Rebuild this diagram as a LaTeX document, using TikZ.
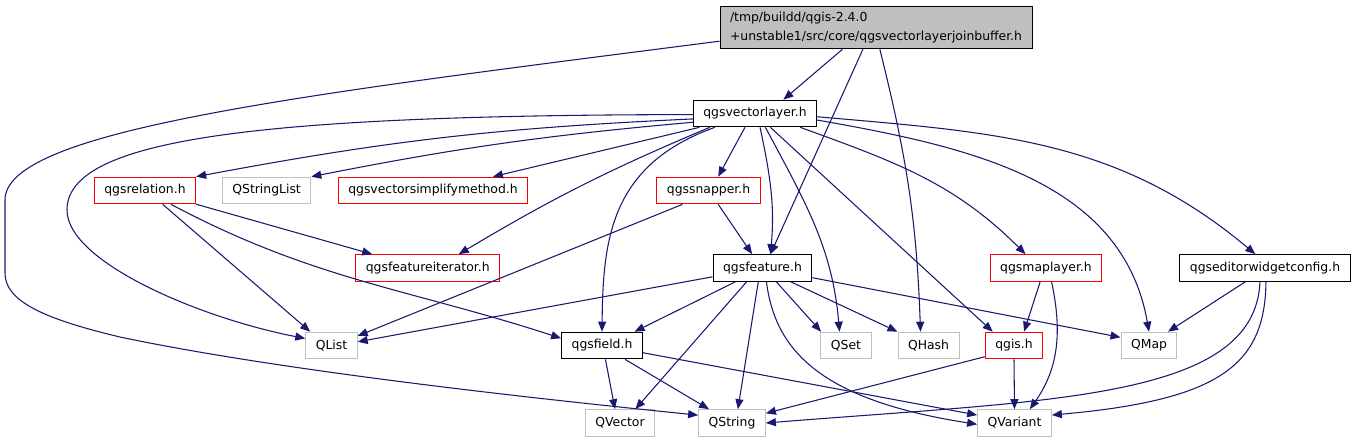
\documentclass[tikz,border=0pt]{standalone}
\usepackage{fontspec}
\setmainfont{DejaVu Sans}
\usetikzlibrary{arrows.meta}
\definecolor{bleunuit}{HTML}{191970}
\definecolor{grisclair}{HTML}{BFBFBF}

\begin{document}
\begin{tikzpicture}[x=0.75pt, y=0.75pt,
    boite/.style={rectangle, draw, line width=0.75pt, minimum height=20pt,
        inner xsep=7.5pt, inner ysep=0pt, font=\fontsize{9.3}{11}\selectfont},
    noire/.style={boite, draw=black},
    rouge/.style={boite, draw=red},
    grise/.style={boite, draw=grisclair},
    lien/.style={draw=bleunuit, line width=0.8pt, -{Triangle[length=7.5pt, width=6pt]}}]
    \useasboundingbox (0,0) rectangle (1357,-443);

    % Le fichier de depart
    \node[noire, fill=grisclair, align=left, minimum height=32pt,
        font=\fontsize{9.3}{14}\selectfont] (racine) at (876,-27.5)
        {/tmp/buildd/qgis-2.4.0\\+unstable1/src/core/qgsvectorlayerjoinbuffer.h};

    % Rang 1
    \node[noire] (vl) at (755,-113.5) {qgsvectorlayer.h};

    % Rang 2
    \node[rouge] (relation) at (145,-190.5) {qgsrelation.h};
    \node[grise] (qstringlist) at (266.6,-190.5) {QStringList};
    \node[rouge] (simplify) at (433,-190.5) {qgsvectorsimplifymethod.h};
    \node[rouge] (snapper) at (708.5,-190.5) {qgssnapper.h};

    % Rang 3
    \node[rouge] (featit) at (427.7,-268) {qgsfeatureiterator.h};
    \node[noire] (feature) at (762.5,-268) {qgsfeature.h};
    \node[rouge] (maplayer) at (1046,-268) {qgsmaplayer.h};
    \node[noire] (editcfg) at (1265,-268) {qgseditorwidgetconfig.h};

    % Rang 4
    \node[grise] (qlist) at (331.5,-345.5) {QList};
    \node[noire] (field) at (602,-345.5) {qgsfield.h};
    \node[grise] (qset) at (846,-345.5) {QSet};
    \node[grise] (qhash) at (928.5,-345.5) {QHash};
    \node[rouge] (qgis) at (1014,-345.5) {qgis.h};
    \node[grise] (qmap) at (1149,-345.5) {QMap};

    % Rang 5
    \node[grise] (qvector) at (620,-423) {QVector};
    \node[grise] (qstring) at (732,-423) {QString};
    \node[grise] (qvariant) at (1014.5,-423) {QVariant};

    % Liens du fichier de depart
    \draw[lien] (racine.-147) -- (vl.26);
    \draw[lien] (racine.-121) -- (feature.60);
    \draw[lien] (racine.-80) to[out=-76,in=92] (qhash.120);
    \draw[lien] (racine.185) .. controls (300,-95) and (5,-130) .. (5,-200) -- (5,-273)
        .. controls (5,-300) and (40,-318) .. (120,-337)
        .. controls (300,-375) and (600,-405) .. (qstring.167);

    % Liens de qgsvectorlayer.h
    \draw[lien] (vl.181) .. controls (250,-115) and (67,-140) .. (67,-210)
        .. controls (67,-262) and (200,-318) .. (qlist.165);
    \draw[lien] (vl.185) to[bend right=4] (relation.north east);
    \draw[lien] (vl.188) to[bend right=3] (qstringlist.north east);
    \draw[lien] (vl.194) -- (simplify.13);
    \draw[lien] (vl.197) to[bend right=4] (featit.24);
    \draw[lien] (vl.199) .. controls (610,-165) and (603,-240) .. (field.north);
    \draw[lien] (vl.-126) -- (snapper.55);
    \draw[lien] (vl.-70) to[out=-78,in=85] (feature.60);
    \draw[lien] (vl.-53) to[out=-62,in=95] (qset.115);
    \draw[lien] (vl.-42) -- (qgis.147);
    \draw[lien] (vl.-17) to[out=-20,in=135] (maplayer.146);
    \draw[lien] (vl.-6) to[out=-10,in=100] (qmap.north);
    \draw[lien] (vl.-3) to[out=-5,in=140] (editcfg.125);

    % Liens de qgsrelation.h et qgssnapper.h
    \draw[lien] (relation.-15) -- (featit.166);
    \draw[lien] (relation.-38) -- (qlist.147);
    \draw[lien] (relation.-28) to[out=-28,in=162] (field.170);
    \draw[lien] (snapper.-55) -- (feature.127);
    \draw[lien] (snapper.-152) -- (qlist.20);

    % Liens de qgsfeature.h
    \draw[lien] (feature.190) -- (qlist.8);
    \draw[lien] (feature.-153) -- (field.23);
    \draw[lien] (feature.-139) -- (qvector.42);
    \draw[lien] (feature.-107) -- (qstring.67);
    \draw[lien] (feature.-74) .. controls (775,-350) and (820,-400) .. (qvariant.182);
    \draw[lien] (feature.-45) -- (qset.151);
    \draw[lien] (feature.-26) -- (qhash.156);
    \draw[lien] (feature.-11) -- (qmap.164);

    % Liens de qgsfield.h
    \draw[lien] (field.-76) -- (qvector.110);
    \draw[lien] (field.-31) -- (qstring.149);
    \draw[lien] (field.-10) -- (qvariant.168);

    % Liens de qgis.h et qgsmaplayer.h
    \draw[lien] (qgis.201) -- (qstring.16);
    \draw[lien] (qgis.south) -- (qvariant.north);
    \draw[lien] (maplayer.-113) -- (qgis.54);
    \draw[lien] (maplayer.-68) to[out=-78,in=55] (qvariant.42);

    % Liens de qgseditorwidgetconfig.h
    \draw[lien] (editcfg.-145) -- (qmap.36);
    \draw[lien] (editcfg.-110) .. controls (1255,-400) and (1050,-400) .. (qstring.east);
    \draw[lien] (editcfg.-86) .. controls (1265,-365) and (1220,-400) .. (qvariant.12);
\end{tikzpicture}
\end{document}
